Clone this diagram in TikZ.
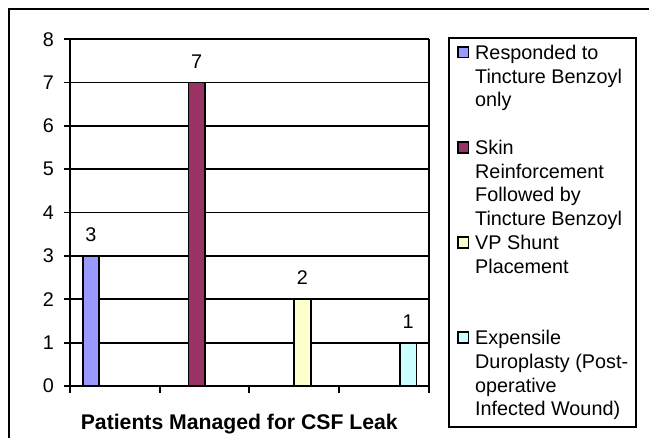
\documentclass[tikz,border=0pt]{standalone}
\usepackage{fontspec}
\setmainfont{Liberation Sans}
\usepackage{tikz}

\definecolor{periwinkle}{HTML}{9999FF}
\definecolor{plum}{HTML}{993366}
\definecolor{ivory}{HTML}{FFFFCC}
\definecolor{paleturq}{HTML}{CCFFFF}

\tikzset{
    chartfont/.style={font=\fontsize{19.8}{23.7}\selectfont},
    gridline/.style={line width=1.8pt},
    axisline/.style={line width=2.6pt},
    barbox/.style={draw=black, line width=1.8pt},
    keybox/.style={draw=black, line width=1.8pt, minimum size=10.5pt, inner sep=0pt},
    ticklabel/.style={chartfont, anchor=east, inner sep=0pt},
    barlabel/.style={chartfont, anchor=base, inner sep=0pt},
    keytext/.style={chartfont, anchor=north west, inner sep=0pt, align=left}
}

\begin{document}
\begin{tikzpicture}[x=1pt, y=-1pt]
    \useasboundingbox (0,0) rectangle (649,438);
    \draw[line width=1.8pt] (8.7,460) -- (8.7,9) -- (660,9);

    % grid and value axis
    \foreach \v in {1,...,8}
        \draw[gridline] (64,386-43.35*\v) -- (428.7,386-43.35*\v);
    \foreach \v in {0,...,8}
        \node[ticklabel] (tick\v) at (54,386-43.35*\v) {\v};
    \draw[gridline] (428.7,39) -- (428.7,392.7);
    \draw[axisline] (70,39) -- (70,392.7);
    \draw[axisline] (64,386) -- (428.7,386);
    \foreach \x in {159.7,249.3,339}
        \draw[gridline] (\x,386) -- (\x,392.7);

    % bars
    \foreach \i/\val/\col in {0/3/periwinkle,1/7/plum,2/2/ivory,3/1/paleturq} {
        \draw[barbox, fill=\col] (82.7+105.8*\i,386) rectangle (99+105.8*\i,386-43.35*\val);
        \node[barlabel] (val\i) at (90.85+105.8*\i,386-43.35*\val-14.5) {\val};
    }

    \node[chartfont, font=\fontsize{21.2}{25}\selectfont\bfseries, anchor=base] (title) at (239.3,430)
        {Patients Managed for CSF Leak};

    % legend
    \draw[line width=1.8pt] (449.3,38.3) rectangle (636,427);
    \foreach \i/\col/\txt in {
        0/periwinkle/{Responded to\\Tincture Benzoyl\\only},
        1/plum/{Skin\\Reinforcement\\Followed by\\Tincture Benzoyl},
        2/ivory/{VP Shunt\\Placement},
        3/paleturq/{Expensile\\Duroplasty (Post-\\operative\\Infected Wound)}} {
        \node[keybox, fill=\col] (key\i) at (463.3,59.3+95.1*\i-7) {};
        \node[keytext] (keytext\i) at (475,59.3+95.1*\i-16.59) {\strut\txt};
    }
\end{tikzpicture}
\end{document}
